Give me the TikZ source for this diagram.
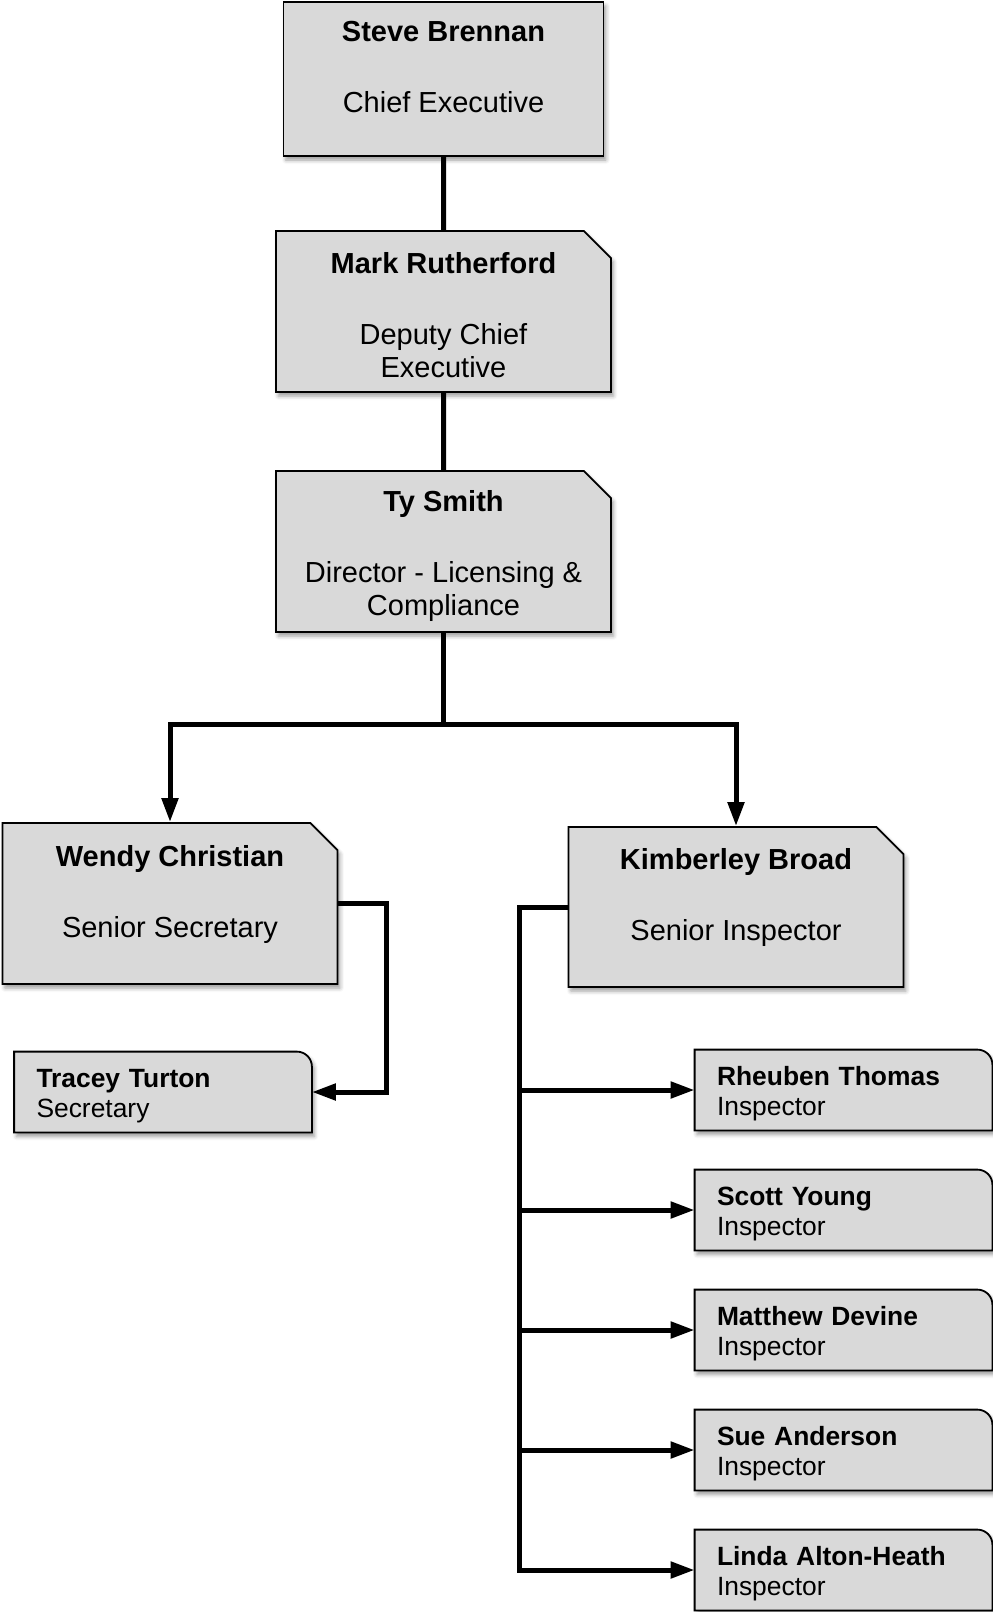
\documentclass[tikz,border=0pt]{standalone}
\usepackage{fontspec}
\setmainfont{Liberation Sans}
\usetikzlibrary{arrows.meta, shapes.misc, shadows.blur, backgrounds}

\definecolor{boxgray}{RGB}{217,217,217}
\newcommand{\topgap}{\rule{0pt}{14.5pt}}

\tikzset{
  boxline/.style={draw=black, line width=0.9pt, fill=boxgray,
    blur shadow={shadow xshift=1.2pt, shadow yshift=-2pt, shadow blur radius=2pt, shadow opacity=40}},
  card/.style={boxline, align=center, inner sep=0pt,
    font=\fontsize{14.5pt}{16.5pt}\selectfont,
    minimum width=167.5pt, minimum height=80.5pt},
  cutcard/.style={card, chamfered rectangle, chamfered rectangle corners=north east,
    chamfered rectangle xsep=10pt},
  tab/.style={align=left, text width=126.5pt, inner xsep=11pt, inner ysep=0pt,
    execute at begin node=\rule{0pt}{13.6pt},
    minimum height=40pt, font=\fontsize{13.2pt}{15pt}\selectfont},
  link/.style={line width=2.5pt},
  feed/.style={link, -{Triangle[length=12pt, width=8pt]}}
}

\begin{document}
\begin{tikzpicture}[x=0.5pt, y=-0.5pt]
\useasboundingbox (0,0) rectangle (992,1612);

% management column
\node[card, minimum width=160pt, minimum height=77pt] (sb) at (443.5,79)
  {\topgap\textbf{Steve Brennan}\\[19pt]Chief Executive\\\mbox{}};
\node[cutcard] (mr) at (443.5,311.5)
  {\topgap\textbf{Mark Rutherford}\\[19pt]Deputy Chief\\Executive};
\node[cutcard] (ts) at (443.5,551.5)
  {\topgap\textbf{Ty Smith}\\[19pt]Director - Licensing \&\\Compliance};

% second level
\node[cutcard] (wc) at (170,903.5)
  {\topgap\textbf{Wendy Christian}\\[19pt]Senior Secretary\\\mbox{}};
\node[cutcard, minimum height=80pt] (kb) at (736,907)
  {\topgap\textbf{Kimberley Broad}\\[19pt]Senior Inspector\\\mbox{}};

% staff
\node[tab] (tt) at (163,1092) {\textbf{Tracey Turton}\\Secretary};
\foreach \id/\who [count=\k] in {rt/Rheuben Thomas, sy/Scott Young,
    md/Matthew Devine, sa/Sue Anderson, la/Linda Alton-Heath}
  \node[tab] (\id) at (843.5,{970+120*\k}) {\textbf{\who}\\Inspector};

\begin{scope}[on background layer]
  \foreach \id in {tt,rt,sy,md,sa,la}
    \draw[boxline] (\id.south west) -- (\id.north west) -- ([xshift=-7.5pt]\id.north east)
      arc[start angle=90, end angle=0, radius=7.5pt] -- (\id.south east) -- cycle;
\end{scope}

% connectors
\draw[link] (sb) -- (mr);
\draw[link] (mr) -- (ts);
\path (ts.south) ++(0,92) coordinate (fork);
\draw[feed] (ts.south) -- (fork) -| (wc.north);
\draw[feed] (fork) -| (kb.north);
\draw[feed] (wc.east) -- ++(48,0) |- (tt.east);
\path (kb.west) ++(-48,0) coordinate (spine);
\draw[feed] (kb.west) -- (spine) |- (la.west);
\foreach \id in {rt,sy,md,sa}
  \draw[feed] (spine |- \id.west) -- (\id.west);
\end{tikzpicture}
\end{document}
